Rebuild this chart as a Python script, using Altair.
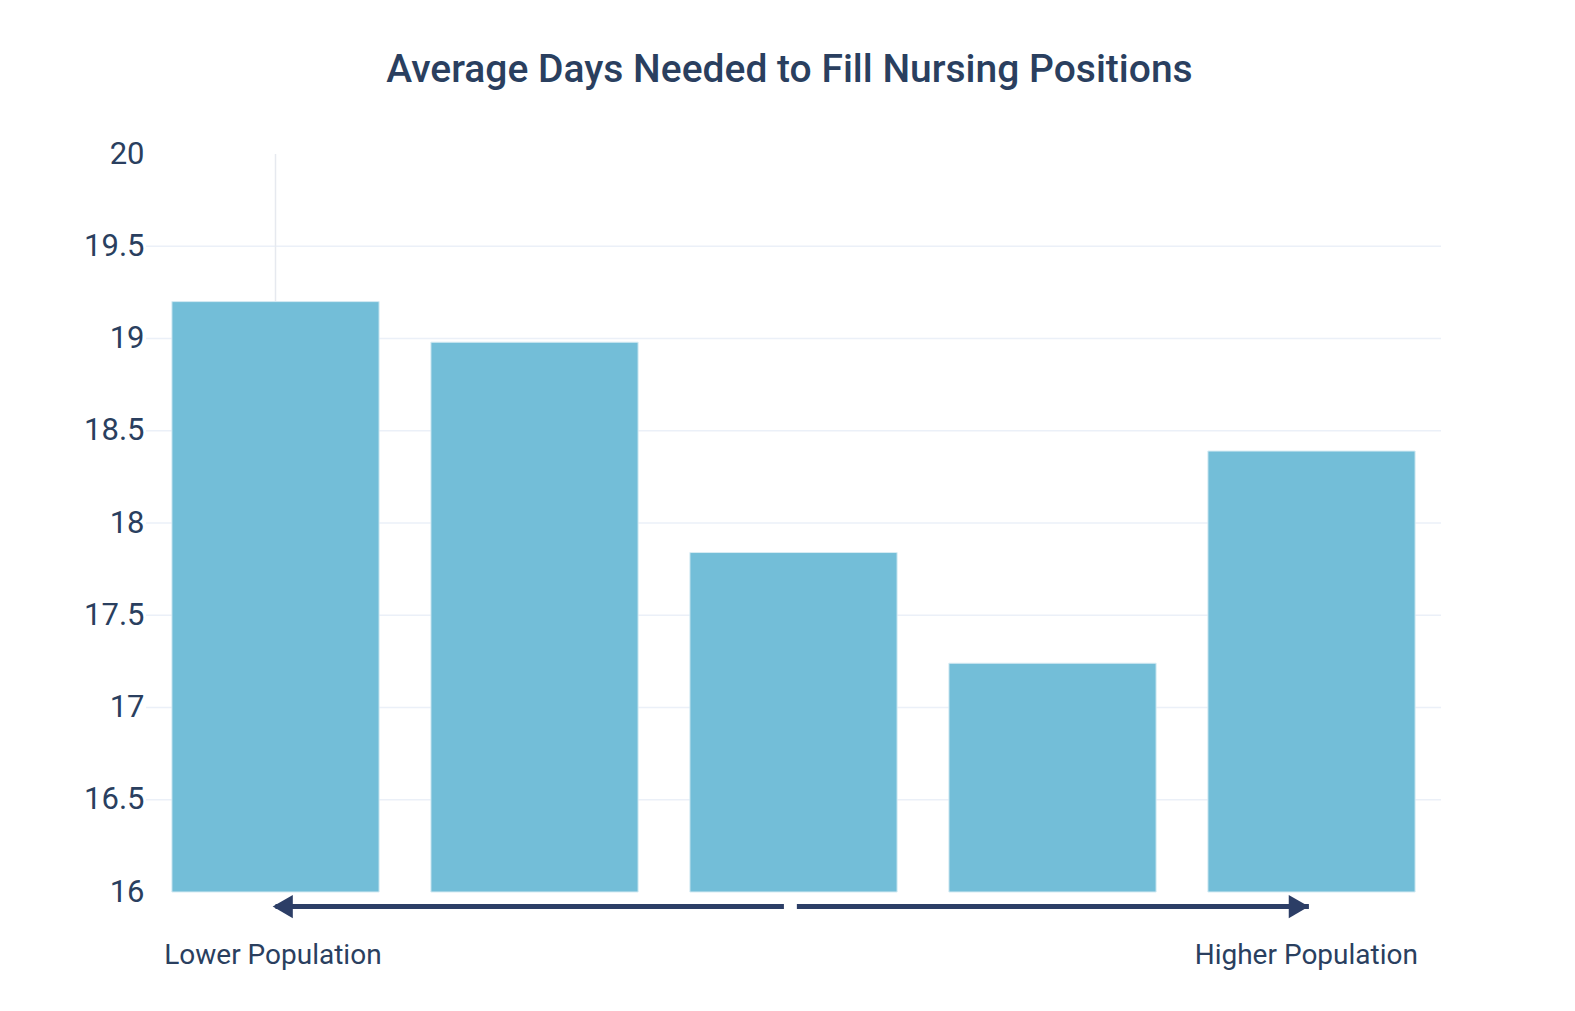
import altair as alt
import pandas as pd

# Data
categories = ["Group 1", "Group 2", "Group 3", "Group 4", "Group 5"]
positions = [1, 2, 3, 4, 5]
avg_days = [19.20, 18.98, 17.84, 17.24, 18.39]

grid_values = [16.5, 17.0, 17.5, 18.0, 18.5, 19.0, 19.5]
y_ticks = [16, 16.5, 17, 17.5, 18, 18.5, 19, 19.5, 20]

arrow_y = 15.921
arrow_lines_x = [2.963, 3.013]
arrow_lines_x2 = [1.0, 4.99]
arrow_head_x = [1.028, 4.951]
arrow_head_shape = ["triangle-left", "triangle-right"]

label_texts = ["Lower Population", "Higher Population"]
label_x = [0.99, 4.98]
label_y = 15.651

TEXT_COLOR = "#2a3f5f"
ARROW_COLOR = "#2c3e66"
BAR_COLOR = "#73bed8"
GRID_COLOR = "#ebf0f8"

bars_df = pd.DataFrame({"category": categories, "pos": positions, "days": avg_days})
bars_df["left"] = bars_df["pos"] - 0.4
bars_df["right"] = bars_df["pos"] + 0.4
bars_df["base"] = 16

grid_df = pd.DataFrame({"g": grid_values})
arrow_df = pd.DataFrame({"x": arrow_lines_x, "x2": arrow_lines_x2, "y": [arrow_y] * 2})
head_df = pd.DataFrame({"x": arrow_head_x, "shape": arrow_head_shape, "y": [arrow_y] * 2})
label_df = pd.DataFrame({"text": label_texts, "x": label_x, "y": [label_y] * 2})
vline_df = pd.DataFrame({"x": [positions[0]], "top": [20], "bottom": [16]})

xscale = alt.Scale(domain=[0.5, 5.5], nice=False, zero=False)
yscale = alt.Scale(domain=[16, 20], nice=False, zero=False)

grid = alt.Chart(grid_df).mark_rule(color=GRID_COLOR, strokeWidth=1.5).encode(
    y=alt.Y("g:Q", scale=yscale,
            axis=alt.Axis(values=y_ticks, format=".1~f", grid=False, ticks=False,
                          domain=False, labelFontSize=31, labelColor=TEXT_COLOR,
                          labelFont="Roboto", labelPadding=2, title=None))
)

vline = alt.Chart(vline_df).mark_rule(color="#e6e9ef", strokeWidth=1.5).encode(
    x=alt.X("x:Q", scale=xscale, axis=None),
    y=alt.Y("top:Q", scale=yscale),
    y2="bottom:Q",
)

bars = alt.Chart(bars_df).mark_bar(color=BAR_COLOR, stroke="#d6ebf3", strokeWidth=1).encode(
    x=alt.X("left:Q", scale=xscale, axis=None),
    x2="right:Q",
    y=alt.Y("days:Q", scale=yscale),
    y2="base:Q",
)

arrows = alt.Chart(arrow_df).mark_rule(color=ARROW_COLOR, strokeWidth=5, clip=False).encode(
    x=alt.X("x:Q", scale=xscale, axis=None),
    x2="x2:Q",
    y=alt.Y("y:Q", scale=yscale),
)

heads = alt.Chart(head_df).mark_point(filled=True, color=ARROW_COLOR, opacity=1,
                                      size=540, clip=False).encode(
    x=alt.X("x:Q", scale=xscale, axis=None),
    y=alt.Y("y:Q", scale=yscale),
    shape=alt.Shape("shape:N", scale=None, legend=None),
)

labels = alt.Chart(label_df).mark_text(font="Roboto", fontSize=28, color=TEXT_COLOR,
                                       baseline="middle", align="center", clip=False).encode(
    x=alt.X("x:Q", scale=xscale, axis=None),
    y=alt.Y("y:Q", scale=yscale),
    text="text:N",
)

chart = alt.layer(grid, vline, bars, arrows, heads, labels).properties(
    width=1295,
    height=738,
    background="white",
    title=alt.TitleParams(
        "Average Days Needed to Fill Nursing Positions",
        font="Roboto", fontSize=39, fontWeight=500, color=TEXT_COLOR,
        anchor="middle", offset=48, dx=-4,
    ),
    autosize=alt.AutoSizeParams(type="none"),
    padding={"left": 138, "top": 146, "right": 90, "bottom": 80},
).configure_view(stroke=None, strokeWidth=0)

chart.save("out.html", embed_options={"renderer": "svg", "actions": False})
